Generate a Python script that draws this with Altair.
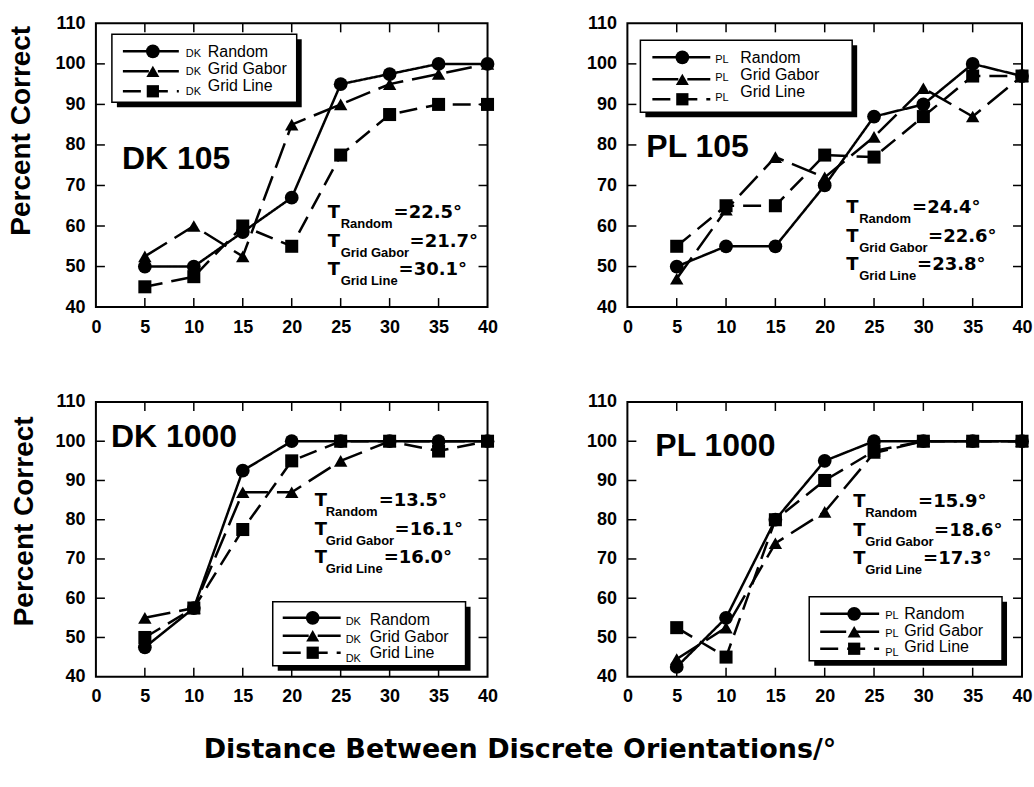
import altair as alt
import pandas as pd

# ---------------- data ----------------
distances = [5, 10, 15, 20, 25, 30, 35, 40]
series_names = ["Random", "Grid Gabor", "Grid Line"]

dk105_random = [50, 50, 58.5, 67, 95, 97.5, 100, 100]
dk105_gabor = [52.5, 60, 52.5, 85, 90, 95, 97.5, 100]
dk105_line = [45, 47.5, 60, 55, 77.5, 87.5, 90, 90]

pl105_random = [50, 55, 55, 70, 87, 90, 100, 97]
pl105_gabor = [47, 64, 77, 72, 82, 94, 87, 97]
pl105_line = [55, 65, 65, 77.5, 77, 87, 97, 97]

dk1000_random = [47.5, 57.5, 92.5, 100, 100, 100, 100, 100]
dk1000_gabor = [55, 57.5, 87, 87, 95, 100, 100, 100]
dk1000_line = [50, 57.5, 77.5, 95, 100, 100, 97.5, 100]

pl1000_random = [42.5, 55, 80, 95, 100, 100, 100, 100]
pl1000_gabor = [44.5, 52.5, 74, 82, 97, 100, 100, 100]
pl1000_line = [52.5, 45, 80, 90, 97.5, 100, 100, 100]

x_tick_labels = [0, 5, 10, 15, 20, 25, 30, 35, 40]
y_tick_labels = [40, 50, 60, 70, 80, 90, 100, 110]

thr_dk105 = ["22.5", "21.7", "30.1"]
thr_pl105 = ["24.4", "22.6", "23.8"]
thr_dk1000 = ["13.5", "16.1", "16.0"]
thr_pl1000 = ["15.9", "18.6", "17.3"]

# ---------------- styles ----------------
DASHES = [[1, 0], [26, 9], [18, 9]]
SHAPES = ["circle", "triangle-up", "square"]
SIZES = [190, 170, 150]
SUB_W = {"Random": 52, "Grid Gabor": 68, "Grid Line": 57}
SANS = "Liberation Sans"
WIDE = "DejaVu Sans"
ONE = alt.InlineData(values=[{"k": 0}])


def make_df(r, g, l):
    rows = []
    for name, vals in zip(series_names, [r, g, l]):
        for x, y in zip(distances, vals):
            rows.append({"x": x, "y": y, "series": name})
    return pd.DataFrame(rows)


def txt(x, y, s, size, weight="bold", font=SANS):
    return alt.Chart(ONE).mark_text(
        text=s, align="left", baseline="alphabetic", fontSize=size,
        fontWeight=weight, font=font, color="black"
    ).encode(x=alt.value(x), y=alt.value(y))


def panel(df, prefix, label, thr, W, H, lay, ytitle, title_x, title_y):
    X = alt.X("x:Q", scale=alt.Scale(domain=[0, 40], nice=False, zero=False),
              axis=alt.Axis(values=x_tick_labels, title=None, ticks=False, domain=False,
                            grid=False, labelPadding=11, labelFlush=False,
                            labelOverlap=False, format="d"))
    if ytitle:
        yaxis = alt.Axis(values=y_tick_labels, title="Percent Correct", ticks=False,
                         domain=False, grid=False, labelPadding=11, labelFlush=False,
                         labelOverlap=False, format="d", titleX=title_x, titleY=title_y,
                         titleAlign="center", titleBaseline="middle", titleAngle=270)
    else:
        yaxis = alt.Axis(values=y_tick_labels, title=None, ticks=False, domain=False,
                         grid=False, labelPadding=11, labelFlush=False,
                         labelOverlap=False, format="d")
    Y = alt.Y("y:Q", scale=alt.Scale(domain=[40, 110], nice=False, zero=False), axis=yaxis)

    layers = []
    tx = pd.DataFrame({"x": x_tick_labels[1:-1]})
    ty = pd.DataFrame({"y": y_tick_labels[1:-1]})
    layers.append(alt.Chart(tx).mark_rule(color="black", strokeWidth=1.5).encode(
        x=X, y=alt.value(H), y2=alt.value(H - 9)))
    layers.append(alt.Chart(tx).mark_rule(color="black", strokeWidth=1.5).encode(
        x=X, y=alt.value(0), y2=alt.value(9)))
    layers.append(alt.Chart(ty).mark_rule(color="black", strokeWidth=1.5).encode(
        y=Y, x=alt.value(0), x2=alt.value(9)))
    layers.append(alt.Chart(ty).mark_rule(color="black", strokeWidth=1.5).encode(
        y=Y, x=alt.value(W), x2=alt.value(W - 9)))

    base = alt.Chart(df)
    layers.append(base.mark_line(color="black", strokeWidth=2.5).encode(
        x=X, y=Y,
        strokeDash=alt.StrokeDash("series:N", scale=alt.Scale(domain=series_names, range=DASHES),
                                  legend=None)))
    layers.append(base.mark_point(filled=True, color="black", opacity=1).encode(
        x=X, y=Y,
        shape=alt.Shape("series:N", scale=alt.Scale(domain=series_names, range=SHAPES), legend=None),
        size=alt.Size("series:N", scale=alt.Scale(domain=series_names, range=SIZES), legend=None)))

    # panel label
    lx, ly = lay["label"]
    layers.append(txt(lx, ly, label, 32))

    # threshold annotations
    tx0, subx, bases = lay["thr"]
    for name, val, b in zip(series_names, thr, bases):
        layers.append(txt(tx0, b, "T", 18, font=WIDE))
        layers.append(txt(subx, b + 10, name, 13))
        layers.append(txt(subx + SUB_W[name] + 1, b, "=" + val + "°", 18, font=WIDE))

    # legend box
    bx0, by0, bx1, by1 = lay["box"]
    layers.append(alt.Chart(ONE).mark_rect(color="black").encode(
        x=alt.value(bx0 + 5), x2=alt.value(bx1 + 5), y=alt.value(by0 + 5), y2=alt.value(by1 + 5)))
    layers.append(alt.Chart(ONE).mark_rect(fill="white", stroke="black", strokeWidth=1.5).encode(
        x=alt.value(bx0), x2=alt.value(bx1), y=alt.value(by0), y2=alt.value(by1)))
    lx0, lx1, mx, px, nx = lay["legx"]
    for i, name in enumerate(series_names):
        my = lay["legy"][i]
        nb = lay["legb"][i]
        layers.append(alt.Chart(ONE).mark_rule(color="black", strokeWidth=2.5).encode(
            x=alt.value(lx0), x2=alt.value(lx1), y=alt.value(my), strokeDash=alt.value(DASHES[i])))
        layers.append(alt.Chart(ONE).mark_point(filled=True, color="black", opacity=1,
                                                shape=SHAPES[i], size=SIZES[i]).encode(
            x=alt.value(mx), y=alt.value(my)))
        layers.append(txt(px, nb + [0, 1, 4][i], prefix, 11, weight="normal"))
        layers.append(txt(nx, nb, name, 16, weight="normal"))

    return alt.layer(*layers).properties(width=W, height=H)


lay_dk105 = {
    "label": (26, 146),
    "thr": (232, 245, [195, 224, 252]),
    "box": (16, 11, 201, 79),
    "legx": (27, 83, 57, 90, 112),
    "legy": [28, 48, 68],
    "legb": [34, 51, 68],
}
lay_pl105 = {
    "label": (19, 134),
    "thr": (219, 232, [190, 219, 247]),
    "box": (13, 17, 225, 89),
    "legx": (25, 83, 55, 88, 113),
    "legy": [34, 56, 76],
    "legb": [40, 57, 74],
}
lay_dk1000 = {
    "label": (15, 45),
    "thr": (219, 230, [104, 133, 161]),
    "box": (177, 200, 370, 264),
    "legx": (187, 245, 217, 250, 274),
    "legy": [216, 234, 251],
    "legb": [223, 240, 256],
}
lay_pl1000 = {
    "label": (28, 54),
    "thr": (226, 238, [105, 134, 162]),
    "box": (182, 195, 375, 259),
    "legx": (193, 252, 227, 258, 277),
    "legy": [212, 230, 247],
    "legb": [217, 234, 250],
}

p1 = panel(make_df(dk105_random, dk105_gabor, dk105_line), "DK", "DK 105", thr_dk105,
           392, 284, lay_dk105, True, -74, 107)
p2 = panel(make_df(pl105_random, pl105_gabor, pl105_line), "PL", "PL 105", thr_pl105,
           395, 284, lay_pl105, False, 0, 0)
p3 = panel(make_df(dk1000_random, dk1000_gabor, dk1000_line), "DK", "DK 1000", thr_dk1000,
           392, 275, lay_dk1000, True, -71, 119)
p4 = panel(make_df(pl1000_random, pl1000_gabor, pl1000_line), "PL", "PL 1000", thr_pl1000,
           395, 275, lay_pl1000, False, 0, 0)

chart = alt.concat(
    p1, p2, p3, p4, columns=2, spacing={"row": 95, "column": 140}, bounds="flush",
    title=alt.TitleParams("Distance Between Discrete Orientations/°", orient="bottom",
                          anchor="middle", font=WIDE, fontSize=27, fontWeight="bold",
                          color="black", offset=30),
).properties(
    padding={"left": 7, "top": 13, "right": 0, "bottom": 0}
).configure_view(
    stroke="black", strokeWidth=2
).configure_axis(
    labelFont=SANS, labelFontSize=18, labelFontWeight="bold", labelColor="black",
    titleFont=SANS, titleFontSize=28, titleFontWeight="bold", titleColor="black"
)

chart.save("out.html", embed_options={"renderer": "svg", "actions": False})
